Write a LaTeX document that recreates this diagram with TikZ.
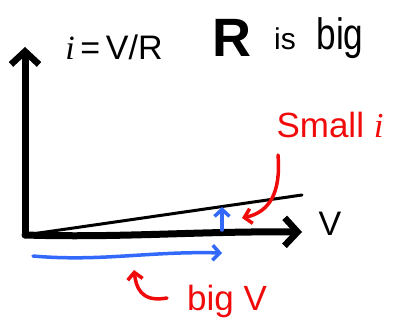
\documentclass[tikz,border=0pt]{standalone}
\usepackage{fontspec}
\setmainfont{Liberation Sans}
\newfontfamily\ifont{Liberation Serif}
\usetikzlibrary{arrows.meta}
\definecolor{hred}{RGB}{240,10,10}
\definecolor{hblue}{RGB}{50,105,250}
\newcommand{\fs}[1]{\fontsize{#1}{#1}\selectfont}
\newcommand{\ii}{{\ifont\itshape i}}
\tikzset{
  axis/.style={line width=7pt, line cap=round, line join=round,
    -{Straight Barb[length=13pt,width=28pt,line width=6.5pt]}},
  thinline/.style={line width=3pt, line cap=round},
  bluearrow/.style={hblue, line width=3.5pt, line cap=round,
    -{Straight Barb[length=7pt,width=15pt,line width=3.5pt]}},
  redarrow/.style={hred, line width=3.5pt, line cap=round,
    -{Straight Barb[length=7pt,width=15pt,line width=3.5pt]}},
  txt/.style={inner sep=0pt, outer sep=0pt},
}
\begin{document}
\begin{tikzpicture}[x=1pt,y=-1pt]
\useasboundingbox (0,0) rectangle (401,328);
% axes
\coordinate (O) at (25,235);
\coordinate (ytip) at (25,47);
\coordinate (xtip) at (302,232);
\coordinate (lend) at (302,195);
\draw[axis] (O) -- (ytip);
\draw[axis] (O) .. controls (120,238) and (200,231) .. (xtip);
\draw[thinline] (O) -- (lend);
% labels
\node[txt] (xlab) at (330,224) {\fs{34}V};
\node[txt, anchor=base] (formula) at (114,60) {\fs{34}\ii\,=\,V/R};
\node[txt] (R) at (232,38) {\fs{54}\bfseries R};
\node[txt, anchor=base] (is) at (285,50) {\fs{30}is};
\node[txt, anchor=base, xscale=0.8] (big) at (340,50) {\fs{44}big};
\node[txt, anchor=base, hred] (small) at (330,138) {\fs{35}Small \ii};
\node[txt, anchor=base, hred] (bigV) at (227,310) {\fs{35}big V};
% blue arrows
\coordinate (bs) at (222,230);
\coordinate (be) at (222,207);
\draw[bluearrow] (bs) -- (be);
\coordinate (ls) at (33,256);
\coordinate (le) at (222,253);
\draw[bluearrow] (ls) .. controls (100,262) and (150,251) .. (le);
% red arrows
\coordinate (rs) at (278,155);
\coordinate (re) at (242,218);
\draw[redarrow] (rs) .. controls (281,192) and (270,212) .. (re);
\coordinate (hs) at (167,298);
\coordinate (he) at (134,270);
\draw[redarrow] (hs) .. controls (140,303) and (136,286) .. (he);
\end{tikzpicture}
\end{document}
